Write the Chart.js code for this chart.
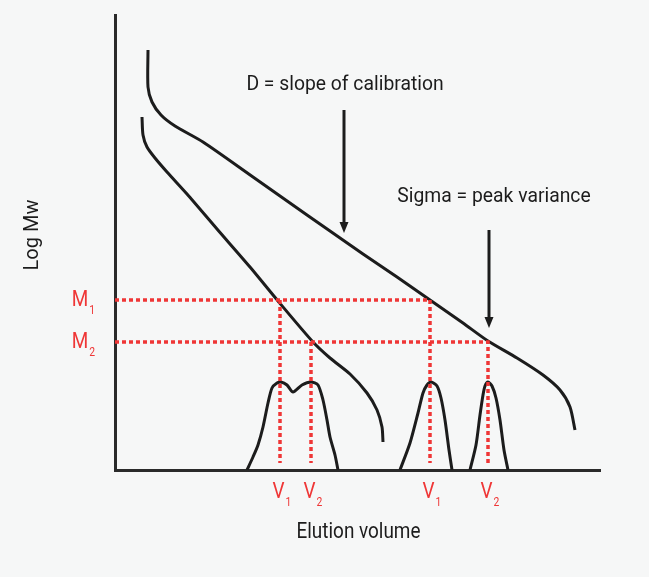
<!DOCTYPE html>
<html>
<head>
<meta charset="utf-8">
<script src="https://cdn.jsdelivr.net/npm/chart.js@4.4.1/dist/chart.umd.min.js"></script>
<style>
  html, body { margin: 0; padding: 0; background: #f6f7f7; }
  #wrap { width: 649px; height: 577px; }
</style>
</head>
<body>
<div id="wrap"><canvas id="myChart" width="649" height="577"></canvas></div>
<script>
// schematic units: x = elution volume, y = log Mw (arbitrary)
const narrowCalibration = [[27,353],[28,335],[32,323],[40,312],[52,298],[72,276],[102,241],[135,203],[163,169],
  [198,128],[215,112],[235,96],[252,77],[262,60],[267,43],[268,28]];
const wideCalibration = [[33,420],[33,383],[37,368],[46,355],[60,344],[88,328],[138,293],[192,255],
  [215,239],[248,216],[282,193],[315,170],[348,147],[373,129],[402,112],[428,95],[445,80],[455,63],[460,40]];
const doublePeak = [[132,0],[138,13],[143,25],[148,43],[153,67],[157,82],[162,87],[166,88],[172,85],
  [178,78],[187,85],[196,88],[203,85],[208,70],[212,50],[215,33],[220,15],[223,0]];
const peakV1 = [[285,0],[295,27],[303,57],[308,77],[312,85],[316,88],[322,84],[326,72],[330,50],[334,20],[337,0]];
const peakV2 = [[355,0],[361,25],[365,55],[368,75],[370,84],[373,88],[377,84],[381,72],[385,50],[389,20],[393,0]];

const mLevels = [170, 128];
const mLabels = ['1', '2'];
const vLeft = [165, 196];
const vRight = [315, 373];
const vLabels = ['1', '2'];
const guideBottom = 7;

const arrowX = [229, 374];
const arrowFrom = [360, 240];
const arrowTo = [237, 142];

const notes = ['D = slope of calibration', 'Sigma = peak variance'];
const noteX = [230, 379];
const noteY = [387, 275];

const RED = '#ef3636';
const INK = '#1c1c1c';

const toPts = arr => arr.map(([x, y]) => ({x, y}));

const curve = (data) => ({
    data: toPts(data), showLine: true, borderColor: INK, borderWidth: 3,
    pointRadius: 0, tension: 0.25, fill: false
});

const guide = (data) => ({
    data: toPts(data), showLine: true, borderColor: RED, borderWidth: 3.5,
    borderDash: [4, 3], pointRadius: 0, tension: 0, fill: false
});

const guides = [];
mLevels.forEach((m, i) => {
    guides.push(guide([[0, m], [vRight[i], m], [vRight[i], guideBottom]]));
    guides.push(guide([[vLeft[i], m], [vLeft[i], guideBottom]]));
});

const condensed = (ctx, text, x, y, size, color, align, squeeze) => {
    ctx.save();
    ctx.font = `${size}px Roboto`;
    ctx.fillStyle = color;
    ctx.textAlign = align || 'center';
    ctx.textBaseline = 'alphabetic';
    ctx.translate(x, y);
    ctx.scale(squeeze || 0.86, 1);
    ctx.fillText(text, 0, 0);
    ctx.restore();
};

const withSub = (ctx, main, sub, x, y, centered) => {
    ctx.save();
    ctx.font = '22px Roboto';
    const w1 = ctx.measureText(main).width * 0.86;
    ctx.font = '12px Roboto';
    const w2 = ctx.measureText(sub).width * 0.86;
    ctx.restore();
    const left = centered ? x - (w1 + w2 + 1) / 2 : x - (w1 + w2 + 1);
    condensed(ctx, main, left, y, 22, RED, 'left');
    condensed(ctx, sub, left + w1 + 1, y + 8, 12, RED, 'left');
};

const drawings = {
    id: 'drawings',
    afterDatasetsDraw(chart) {
        const {ctx, chartArea} = chart;
        const xs = chart.scales.x, ys = chart.scales.y;

        // arrows
        arrowX.forEach((ax, i) => {
            const px = xs.getPixelForValue(ax);
            const top = ys.getPixelForValue(arrowFrom[i]);
            const tip = ys.getPixelForValue(arrowTo[i]);
            ctx.save();
            ctx.strokeStyle = INK;
            ctx.fillStyle = INK;
            ctx.lineWidth = 3;
            ctx.beginPath();
            ctx.moveTo(px, top);
            ctx.lineTo(px, tip - 8);
            ctx.stroke();
            ctx.beginPath();
            ctx.moveTo(px - 4.5, tip - 11);
            ctx.lineTo(px + 4.5, tip - 11);
            ctx.lineTo(px, tip);
            ctx.closePath();
            ctx.fill();
            ctx.restore();
        });

        notes.forEach((t, i) => {
            condensed(ctx, t, xs.getPixelForValue(noteX[i]), ys.getPixelForValue(noteY[i]) + 7, 21, INK, 'center', 0.92);
        });

        mLevels.forEach((m, i) => {
            withSub(ctx, 'M', mLabels[i], chartArea.left - 20, ys.getPixelForValue(m) + 6, false);
        });
        [...vLeft, ...vRight].forEach((v, i) => {
            withSub(ctx, 'V', vLabels[i % 2], xs.getPixelForValue(v) + 2, chartArea.bottom + 28, true);
        });

        condensed(ctx, 'Elution volume', (chartArea.left + chartArea.right) / 2 + 1, chartArea.bottom + 68, 22, INK);

        ctx.save();
        ctx.translate(chartArea.left - 77, 235);
        ctx.rotate(-Math.PI / 2);
        condensed(ctx, 'Log Mw', 0, 0, 20, INK, 'center', 1);
        ctx.restore();
    }
};

const main = () => {
    const ctx = document.getElementById('myChart').getContext('2d');
    new Chart(ctx, {
        type: 'scatter',
        data: {
            datasets: [
                ...guides,
                curve(narrowCalibration),
                curve(wideCalibration),
                curve(doublePeak),
                curve(peakV1),
                curve(peakV2)
            ]
        },
        options: {
            responsive: false,
            animation: false,
            layout: { padding: { left: 115, top: 15, right: 49, bottom: 107 } },
            plugins: { legend: { display: false }, tooltip: { enabled: false } },
            scales: {
                x: {
                    type: 'linear', min: 0, max: 485,
                    grid: { display: false },
                    ticks: { display: false },
                    border: { color: '#2a2a2a', width: 3 },
                    afterFit: (s) => { s.height = 0; }
                },
                y: {
                    type: 'linear', min: 0, max: 455,
                    grid: { display: false },
                    ticks: { display: false },
                    border: { color: '#2a2a2a', width: 3 },
                    afterFit: (s) => { s.width = 0; }
                }
            }
        },
        plugins: [drawings]
    });
};

document.addEventListener('DOMContentLoaded', main);
</script>
</body>
</html>
